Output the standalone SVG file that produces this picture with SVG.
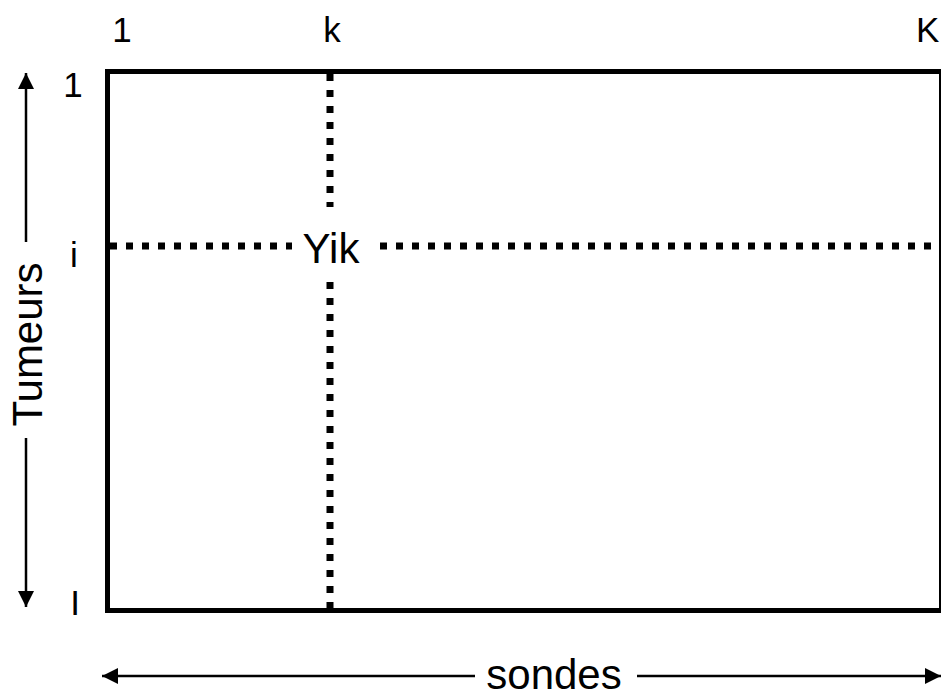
<svg xmlns="http://www.w3.org/2000/svg" width="941" height="692" viewBox="0 0 941 692">
<style>
text{font-family:"Liberation Sans",Arial,sans-serif;fill:#000}
.sm{font-size:35px}
.lg{font-size:42px}
.frame{fill:none;stroke:#000;stroke-width:5}
.dot{stroke:#000;stroke-width:7;stroke-dasharray:7 9;fill:none}
.ax{stroke:#000;stroke-width:2.5;fill:none}
</style>
<defs>
<marker id="ah" markerWidth="16" markerHeight="16" viewBox="0 0 16 16" refX="16" refY="8" orient="auto" markerUnits="userSpaceOnUse">
<path d="M0,0 L16,8 L0,16 Z" fill="#000"/>
</marker>
</defs>
<g id="matrix">
<rect class="frame" x="107.5" y="71.5" width="834" height="539"/>
</g>
<g id="connectors">
<line class="dot" x1="110" y1="246" x2="292" y2="246"/>
<line class="dot" x1="380" y1="246" x2="936" y2="246"/>
<line class="dot" x1="330" y1="74" x2="330" y2="207"/>
<line class="dot" x1="330" y1="282" x2="330" y2="608"/>
<line class="ax" x1="26" y1="242" x2="26" y2="73" marker-end="url(#ah)"/>
<line class="ax" x1="26" y1="438" x2="26" y2="607" marker-end="url(#ah)"/>
<line class="ax" x1="475" y1="676" x2="102" y2="676" marker-end="url(#ah)"/>
<line class="ax" x1="637" y1="676" x2="941" y2="676" marker-end="url(#ah)"/>
</g>
<g id="labels">
<text class="sm" x="122" y="42" text-anchor="middle">1</text>
<text class="sm" x="332" y="42" text-anchor="middle">k</text>
<text class="sm" x="916" y="42">K</text>
<text class="sm" x="73" y="97" text-anchor="middle">1</text>
<text class="sm" x="74" y="267" text-anchor="middle">i</text>
<text class="sm" x="75" y="615" text-anchor="middle">I</text>
<text class="lg" x="331" y="263" text-anchor="middle">Yik</text>
<text class="lg" x="554" y="689" text-anchor="middle">sondes</text>
<text class="lg" transform="translate(42,344.5) rotate(-90)" text-anchor="middle">Tumeurs</text>
</g>
</svg>
